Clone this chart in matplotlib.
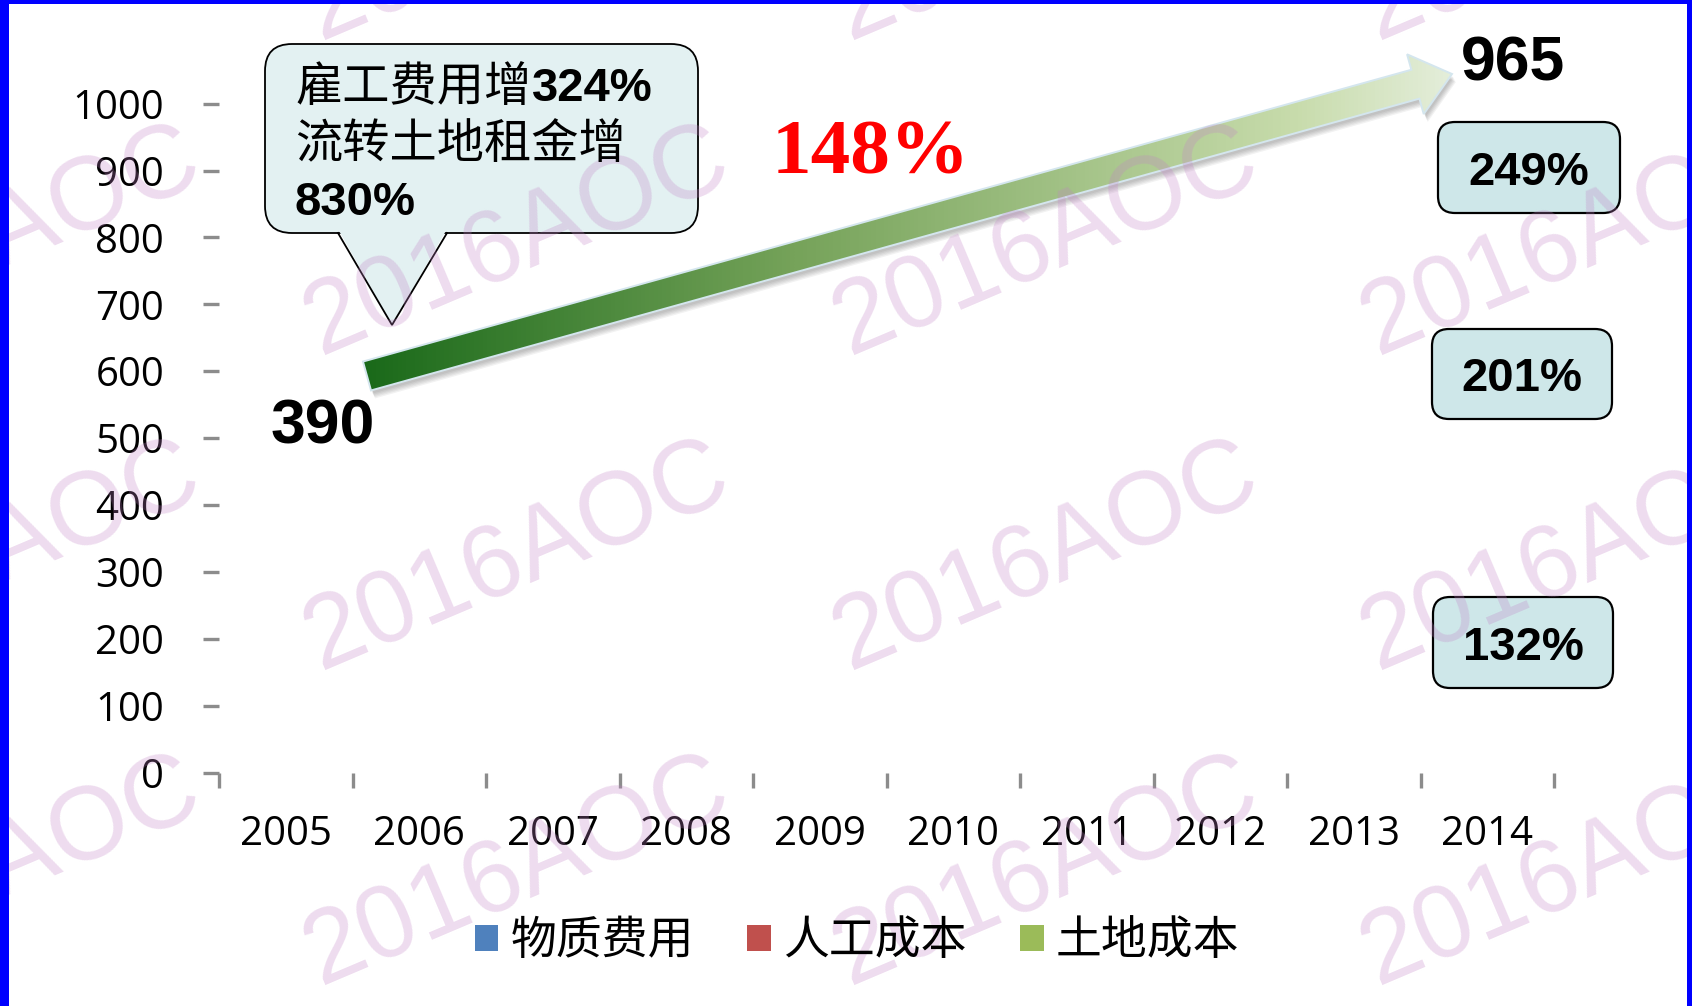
import numpy as np
import matplotlib
matplotlib.use("Agg")
import matplotlib.pyplot as plt
from matplotlib.patches import FancyBboxPatch, Polygon, Rectangle
from matplotlib.colors import LinearSegmentedColormap
from matplotlib.font_manager import FontProperties

# data (the bars themselves are empty in the source picture)
years = ["2005", "2006", "2007", "2008", "2009", "2010", "2011", "2012", "2013", "2014"]
material = [0, 0, 0, 0, 0, 0, 0, 0, 0, 0]
labor = [0, 0, 0, 0, 0, 0, 0, 0, 0, 0]
land = [0, 0, 0, 0, 0, 0, 0, 0, 0, 0]
series_names = ["物质费用", "人工成本", "土地成本"]
y_ticks = [0, 100, 200, 300, 400, 500, 600, 700, 800, 900, 1000]

start_value = 390
end_value = 965
growth_label = "148%"
box_labels = ["249%", "201%", "132%"]
note_cn = ["雇工费用增", "流转土地租金增"]
note_num = ["324%", "830%"]

series_colors = ["#4F81BD", "#C0504D", "#9BBB59"]
W, H = 1692, 1006

fig = plt.figure(figsize=(W / 100, H / 100), dpi=100)
fig.patch.set_facecolor("white")

# main chart axes
ax = fig.add_axes([219 / W, 1 - 772.6 / H, 1335 / W, 669 / H])
x = np.arange(len(years))
bottom = np.zeros(len(years))
handles = []
for name, vals, c in zip(series_names, [material, labor, land], series_colors):
    b = ax.bar(x, vals, 0.55, bottom=bottom, color=c, label=name, linewidth=0)
    bottom += np.array(vals)
    handles.append(b)

ax.set_xlim(-0.5, len(years) - 0.5)
ax.set_ylim(0, 1000)
for s in ax.spines.values():
    s.set_visible(False)

ax.set_yticks(y_ticks)
ax.set_yticklabels([str(v) for v in y_ticks], fontfamily="Open Sans", fontsize=29)
ax.tick_params(axis="y", length=11.5, width=2.4, color="#8c8c8c", pad=28)

ax.set_xticks(x)
ax.set_xticklabels(years, fontfamily="Open Sans", fontsize=29)
ax.tick_params(axis="x", which="major", length=0, pad=30)
ax.set_xticks(np.arange(-0.5, len(years)), minor=True)
ax.tick_params(axis="x", which="minor", length=11, width=2.4, color="#8c8c8c")

leg = fig.legend(handles, series_names, loc="center",
                 bbox_to_anchor=(857 / W, 1 - 941 / H), ncol=3, frameon=False,
                 prop=FontProperties(family="Noto Sans CJK SC", size=33),
                 handlelength=0.52, handleheight=0.52, handletextpad=0.26,
                 columnspacing=1.17)

# overlay in pixel coordinates for the annotations
ov = fig.add_axes([0, 0, 1, 1])
ov.set_zorder(3)
ov.patch.set_alpha(0)
ov.axis("off")

# gradient arrow
T = np.array([367.0, 376.0])
P = np.array([1452.0, 74.0])
u = (P - T) / np.linalg.norm(P - T)
n = np.array([-u[1], u[0]])
hw, hh, hl = 15, 31, 38
B = P - u * hl
pts = np.array([T + n * hw, B + n * hw, B + n * hh, P, B - n * hh, B - n * hw, T - n * hw])

for k in range(1, 6):
    sh = Polygon(pts + np.array([1.0 + k * 0.6, 2.0 + k * 1.2]), closed=True,
                 fc="black", ec="none", alpha=0.05, zorder=1)
    ov.add_patch(sh)

arrow = Polygon(pts, closed=True, fc="none", ec="#d4e6ee", lw=1.4, zorder=2.2)
ov.add_patch(arrow)
cmap = LinearSegmentedColormap.from_list(
    "arrow", [(0, (25/255, 105/255, 25/255)), (0.4, (118/255, 163/255, 90/255)),
              (0.86, (200/255, 220/255, 172/255)), (1, (228/255, 238/255, 218/255))])
grad = np.linspace(0, 1, 256).reshape(1, -1)
im = ov.imshow(grad, cmap=cmap, extent=(T[0] - 10, P[0] + 2, 430, 30),
               aspect="auto", zorder=2, interpolation="bilinear")
im.set_clip_path(arrow)

# speech bubble
fill = "#E3F1F2"
bubble = FancyBboxPatch((265, 44), 433, 189, boxstyle="round,pad=0,rounding_size=27",
                        fc=fill, ec="black", lw=1.3, zorder=3)
ov.add_patch(bubble)
tail = Polygon([(338, 229), (392, 325), (447, 229)], closed=True, fc=fill, ec="none", zorder=3.1)
ov.add_patch(tail)
ov.plot([338, 392, 447], [233, 325, 233], color="black", lw=1.3, zorder=3.2,
        solid_joinstyle="miter")

cn_font = dict(family="Noto Sans CJK SC", fontsize=34, color="black")
num_font = dict(family="Liberation Sans", fontweight="bold", fontsize=34, color="black")
ov.text(295, 101, note_cn[0], ha="left", va="baseline", zorder=7, **cn_font)
ov.text(532, 101, note_num[0], ha="left", va="baseline", zorder=7, **num_font)
ov.text(295, 158, note_cn[1], ha="left", va="baseline", zorder=7, **cn_font)
ov.text(295, 215, note_num[1], ha="left", va="baseline", zorder=7, **num_font)

# values and growth
big = dict(family="Liberation Sans", fontweight="bold", fontsize=45, color="black", zorder=7)
ov.text(323, 443, str(start_value), ha="center", va="baseline", **big)
ov.text(1513, 80, str(end_value), ha="center", va="baseline", **big)
ov.text(871, 173, growth_label, ha="center", va="baseline", family="Liberation Serif",
        fontweight="bold", fontsize=57, color="#FF0000", zorder=7)

# percentage boxes on the right
box_rects = [(1438, 122, 1620, 213), (1432, 329, 1612, 419), (1433, 597, 1613, 688)]
for lab, (x0, y0, x1, y1) in zip(box_labels, box_rects):
    bx = FancyBboxPatch((x0, y0), x1 - x0, y1 - y0, boxstyle="round,pad=0,rounding_size=17",
                        fc="#CEE7E9", ec="black", lw=1.6, zorder=3)
    ov.add_patch(bx)
    ov.text((x0 + x1) / 2, (y0 + y1) / 2 + 17, lab, ha="center", va="baseline",
            family="Liberation Sans", fontweight="bold", fontsize=34, color="black", zorder=7)

# watermark tiles
wm_cols = [-11, 518, 1047, 1575]
wm_rows = [-72, 243, 558, 873]
for cx in wm_cols:
    for cy in wm_rows:
        ov.text(cx, cy, "2016AOC", rotation=23, rotation_mode="anchor", ha="center",
                va="center", family="Liberation Sans", fontsize=74, color="#C283C6",
                alpha=0.28, zorder=6, clip_on=True)

# blue frame
ov.add_patch(Rectangle((0, 0), 9, H, fc="#0000FF", ec="none", zorder=8))
ov.add_patch(Rectangle((0, 0), W, 4, fc="#0000FF", ec="none", zorder=8))
ov.add_patch(Rectangle((W - 5, 0), 5, H, fc="#0000FF", ec="none", zorder=8))

ov.set_xlim(0, W)
ov.set_ylim(H, 0)

fig.savefig("out.png", dpi=100)
